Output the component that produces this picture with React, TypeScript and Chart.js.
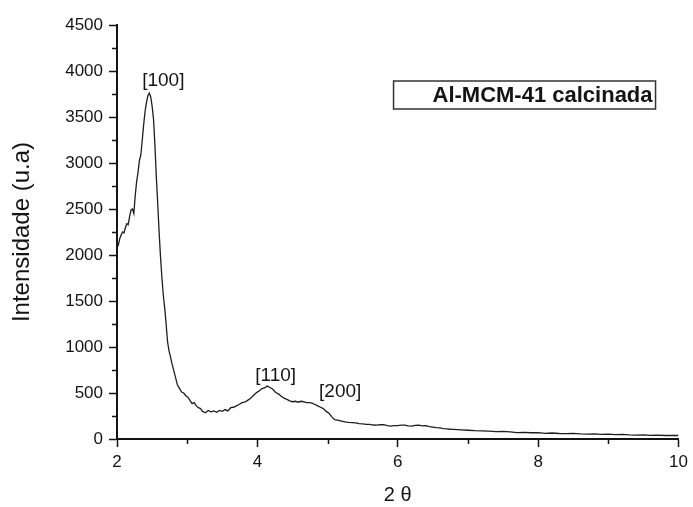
import React, { useEffect, useRef } from 'react';
import { Chart, registerables } from 'chart.js';

Chart.register(...registerables);

// 2θ (degrees)
const twoTheta = [
  2.00, 2.02, 2.04, 2.06, 2.08, 2.10, 2.12, 2.14, 2.16, 2.18, 2.20, 2.22, 2.24, 2.26, 2.28, 2.30,
  2.32, 2.34, 2.36, 2.38, 2.40, 2.42, 2.44, 2.46, 2.48, 2.50, 2.52, 2.54, 2.56, 2.58, 2.60, 2.62,
  2.64, 2.66, 2.68, 2.70, 2.72, 2.74, 2.76, 2.78, 2.80, 2.83, 2.86, 2.89, 2.92, 2.95, 2.98, 3.01,
  3.04, 3.07, 3.10, 3.13, 3.16, 3.19, 3.22, 3.26, 3.30, 3.34, 3.38, 3.42, 3.46, 3.50, 3.54, 3.58,
  3.62, 3.66, 3.70, 3.74, 3.78, 3.82, 3.86, 3.90, 3.94, 3.98, 4.02, 4.06, 4.10, 4.14, 4.18, 4.22,
  4.26, 4.30, 4.34, 4.38, 4.42, 4.46, 4.50, 4.54, 4.58, 4.62, 4.66, 4.70, 4.74, 4.78, 4.82, 4.86,
  4.90, 4.94, 4.98, 5.02, 5.06, 5.10, 5.14, 5.20, 5.25, 5.30, 5.35, 5.40, 5.45, 5.50, 5.55, 5.60,
  5.65, 5.70, 5.75, 5.80, 5.85, 5.90, 5.95, 6.00, 6.05, 6.10, 6.15, 6.20, 6.25, 6.30, 6.35, 6.40,
  6.45, 6.50, 6.55, 6.60, 6.65, 6.70, 6.75, 6.80, 6.90, 7.00, 7.10, 7.20, 7.30, 7.40, 7.50, 7.60,
  7.70, 7.80, 7.90, 8.00, 8.10, 8.20, 8.30, 8.40, 8.50, 8.60, 8.70, 8.80, 8.90, 9.00, 9.10, 9.20,
  9.30, 9.40, 9.50, 9.60, 9.70, 9.80, 9.90, 10.00,
];

// Intensidade (u.a)
const intensity = [
  2140, 2110, 2180, 2220, 2250, 2240, 2300, 2340, 2330, 2420, 2490, 2500, 2450, 2650, 2800, 2900,
  3030, 3090, 3250, 3420, 3560, 3660, 3730, 3760, 3720, 3620, 3480, 3200, 2850, 2560, 2250, 1980,
  1750, 1560, 1420, 1250, 1060, 960, 900, 830, 770, 680, 590, 550, 510, 500, 470, 455,
  420, 385, 395, 360, 340, 330, 300, 285, 310, 295, 305, 290, 310, 300, 320, 305,
  340, 345, 360, 375, 395, 400, 420, 440, 470, 500, 520, 545, 555, 575, 560, 540,
  505, 490, 465, 445, 430, 415, 405, 410, 400, 410, 405, 395, 395, 390, 375, 360,
  345, 330, 300, 280, 240, 210, 205, 195, 185, 180, 178, 175, 168, 165, 160, 160,
  152, 150, 156, 155, 145, 140, 146, 145, 150, 150, 142, 140, 148, 150, 143, 145,
  135, 130, 124, 120, 112, 110, 106, 105, 100, 95, 90, 88, 85, 80, 82, 78,
  70, 72, 68, 70, 62, 65, 60, 58, 62, 55, 52, 55, 50, 52, 48, 50,
  45, 42, 45, 40, 42, 38, 40, 38,
];

const seriesLabel = 'Al-MCM-41 calcinada';

// Peak annotations
const peakLabels = ['[100]', '[110]', '[200]'];
const peakLabelX = [2.66, 4.26, 5.18];
const peakLabelY = [3890, 685, 511];

const minorXTicks = [3, 5, 7, 9];
const minorYTicks = [250, 750, 1250, 1750, 2250, 2750, 3250, 3750, 4250];

const AXIS = '#141414';
const FONT = '"Liberation Sans", Arial, sans-serif';

const decorPlugin = {
  id: 'decor',
  afterDraw(chart: any) {
    const ctx = chart.ctx;
    const xs = chart.scales.x;
    const ys = chart.scales.y;
    const area = chart.chartArea;
    ctx.save();
    ctx.strokeStyle = AXIS;
    ctx.lineWidth = 1.5;
    ctx.beginPath();
    minorXTicks.forEach((v) => {
      const px = Math.round(xs.getPixelForValue(v)) + 0.5;
      ctx.moveTo(px, area.bottom);
      ctx.lineTo(px, area.bottom + 5);
    });
    minorYTicks.forEach((v) => {
      const py = Math.round(ys.getPixelForValue(v)) + 0.5;
      ctx.moveTo(area.left, py);
      ctx.lineTo(area.left - 5, py);
    });
    ctx.stroke();

    // peak labels
    ctx.fillStyle = AXIS;
    ctx.font = '19px ' + FONT;
    ctx.textAlign = 'center';
    ctx.textBaseline = 'middle';
    peakLabels.forEach((t, i) => {
      ctx.fillText(t, xs.getPixelForValue(peakLabelX[i]), ys.getPixelForValue(peakLabelY[i]));
    });

    // legend box
    const bx = area.right - 285;
    const by = area.top + 56;
    const bw = 262;
    const bh = 28;
    ctx.lineWidth = 1.5;
    ctx.strokeStyle = '#333';
    ctx.strokeRect(bx, by, bw, bh);
    ctx.font = 'bold 22px ' + FONT;
    ctx.textAlign = 'right';
    ctx.fillText(seriesLabel, bx + bw - 3, by + bh / 2 + 1);
    ctx.restore();
  },
};

export default function App() {
  const ref = useRef<HTMLCanvasElement | null>(null);

  useEffect(() => {
    if (!ref.current) return;
    const points = twoTheta.map((x, i) => ({ x, y: intensity[i] }));
    const chart = new Chart(ref.current, {
      type: 'line',
      data: {
        datasets: [
          {
            label: seriesLabel,
            data: points,
            borderColor: '#1e1e1e',
            borderWidth: 1.3,
            pointRadius: 0,
            tension: 0,
            fill: false,
          },
        ],
      },
      options: {
        animation: false,
        responsive: false,
        maintainAspectRatio: false,
        layout: { padding: { top: 25, right: 10, left: 0, bottom: 0 } },
        plugins: {
          legend: { display: false },
          tooltip: { enabled: false },
        },
        scales: {
          x: {
            type: 'linear',
            min: 2,
            max: 10,
            afterFit: (s: any) => {
              s.height = 68;
            },
            ticks: {
              stepSize: 2,
              color: AXIS,
              font: { family: FONT, size: 17 },
              padding: 5,
              maxRotation: 0,
              callback: (v: any) => String(v),
            },
            grid: {
              drawOnChartArea: false,
              drawTicks: true,
              tickLength: 8,
              tickColor: AXIS,
              tickWidth: 1.5,
            },
            border: { display: true, color: AXIS, width: 2 },
            title: {
              display: true,
              text: '2 θ',
              color: AXIS,
              font: { family: FONT, size: 20 },
              padding: { top: 0, bottom: 0 },
            },
          },
          y: {
            type: 'linear',
            min: 0,
            max: 4500,
            afterFit: (s: any) => {
              s.width = 117;
            },
            ticks: {
              stepSize: 500,
              color: AXIS,
              font: { family: FONT, size: 17 },
              padding: 6,
              callback: (v: any) => String(v),
            },
            grid: {
              drawOnChartArea: false,
              drawTicks: true,
              tickLength: 8,
              tickColor: AXIS,
              tickWidth: 1.5,
            },
            border: { display: true, color: AXIS, width: 2 },
            title: {
              display: true,
              text: 'Intensidade (u.a)',
              color: AXIS,
              font: { family: FONT, size: 24 },
              padding: { top: 8, bottom: 0 },
            },
          },
        },
      },
      plugins: [decorPlugin],
    } as any);
    return () => chart.destroy();
  }, []);

  return (
    <div style={{ position: 'fixed', left: 0, top: 0, width: 693, height: 507, background: '#fff' }}>
      <canvas ref={ref} width={693} height={507} style={{ width: 693, height: 507 }} />
    </div>
  );
}
